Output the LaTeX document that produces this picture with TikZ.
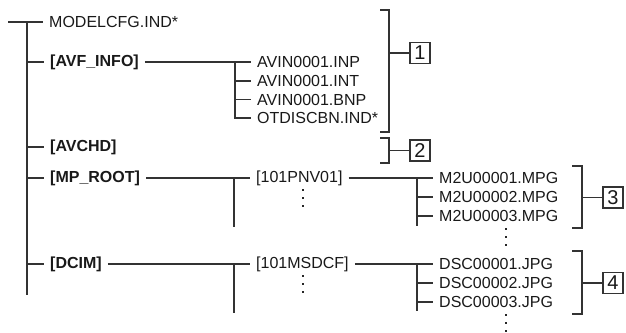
\documentclass[tikz,border=0pt]{standalone}
\usepackage{fontspec}
\setmainfont{Liberation Sans}
\begin{document}
\begin{tikzpicture}[x=1pt,y=-1pt,
  ln/.style={draw=black!80,line width=1.2pt},
  fname/.style={anchor=west,inner xsep=6pt,inner ysep=0pt,font=\fontsize{16}{18}\selectfont,text=black!90},
  dname/.style={fname,font=\fontsize{16}{18}\selectfont\bfseries},
  numbox/.style={draw=black!80,line width=1.1pt,minimum width=20pt,minimum height=21pt,inner sep=0pt,font=\fontsize{20}{20}\selectfont,text=black!90},
  dot/.style={fill=black!85,inner sep=0pt,minimum size=2.4pt,rectangle}]
\useasboundingbox (0,0) rectangle (626,332);
% root
\coordinate (rootL) at (8,22);
\coordinate (top) at (27,22);
\coordinate (bottom) at (27,295);
\node[fname] (model) at (43,22) {MODELCFG.IND*};
\node[dname] (avf) at (44,62) {[AVF\_INFO]};
\node[dname] (avchd) at (44,147) {[AVCHD]};
\node[dname] (mp) at (44,178) {[MP\_ROOT]};
\node[dname] (dcim) at (44,264) {[DCIM]};
\draw[ln] (rootL) -- (model.west);
\draw[ln] (top) -- (bottom);
\foreach \n in {avf,avchd,mp,dcim} \draw[ln] (top |- \n.west) -- (\n.west);
% AVF_INFO
\node[fname] (inp) at (251,62) {AVIN0001.INP};
\node[fname] (int) at (251,81) {AVIN0001.INT};
\node[fname] (bnp) at (251,99.5) {AVIN0001.BNP};
\node[fname] (otd) at (251,118) {OTDISCBN.IND*};
\coordinate (avfj) at (235,62);
\draw[ln] (avf.east) -- (inp.west);
\draw[ln] (avfj) -- (avfj |- otd.west) -- (otd.west);
\draw[ln] (avfj |- int.west) -- (int.west);
\draw[ln] (avfj |- bnp.west) -- (bnp.west);
% MP_ROOT
\node[fname] (pnv) at (250,178) {[101PNV01]};
\coordinate (mpj) at (234,178);
\coordinate (mpend) at (234,227);
\draw[ln] (mp.east) -- (pnv.west);
\draw[ln] (mpj) -- (mpend);
\foreach \y [count=\i] in {190,198,206} \node[dot] (pd\i) at (303,\y) {};
\node[fname] (m1) at (433,178) {M2U00001.MPG};
\node[fname] (m2) at (433,197) {M2U00002.MPG};
\node[fname] (m3) at (433,216) {M2U00003.MPG};
\coordinate (pnvj) at (417,178);
\coordinate (pnvend) at (417,226);
\draw[ln] (pnv.east) -- (m1.west);
\draw[ln] (pnvj) -- (pnvend);
\draw[ln] (pnvj |- m2.west) -- (m2.west);
\draw[ln] (pnvj |- m3.west) -- (m3.west);
\foreach \y [count=\i] in {229,237,245} \node[dot] (md\i) at (506,\y) {};
% DCIM
\node[fname] (msd) at (250,264) {[101MSDCF]};
\coordinate (dcj) at (234,264);
\coordinate (dcend) at (234,313);
\draw[ln] (dcim.east) -- (msd.west);
\draw[ln] (dcj) -- (dcend);
\foreach \y [count=\i] in {276,284,292} \node[dot] (sd\i) at (303,\y) {};
\node[fname] (d1) at (433,264) {DSC00001.JPG};
\node[fname] (d2) at (433,283) {DSC00002.JPG};
\node[fname] (d3) at (433,302) {DSC00003.JPG};
\coordinate (msdj) at (417,264);
\coordinate (msdend) at (417,311);
\draw[ln] (msd.east) -- (d1.west);
\draw[ln] (msdj) -- (msdend);
\draw[ln] (msdj |- d2.west) -- (d2.west);
\draw[ln] (msdj |- d3.west) -- (d3.west);
\foreach \y [count=\i] in {315,323,331} \node[dot] (dd\i) at (506,\y) {};
% brackets
\node[numbox] (b1) at (420,53) {1};
\node[numbox] (b2) at (420,150.5) {2};
\node[numbox] (b3) at (613,197.5) {3};
\node[numbox] (b4) at (613,283) {4};
\coordinate (k1t) at (389,10); \coordinate (k1b) at (389,132);
\draw[ln] (k1t) ++(-9,0) -- (k1t) -- (k1b) -- ++(-9,0);
\draw[ln] (k1t |- b1.west) -- (b1.west);
\coordinate (k2t) at (389,138); \coordinate (k2b) at (389,163);
\draw[ln] (k2t) ++(-9,0) -- (k2t) -- (k2b) -- ++(-9,0);
\draw[ln] (k2t |- b2.west) -- (b2.west);
\coordinate (k3t) at (582,166); \coordinate (k3b) at (582,228);
\draw[ln] (k3t) ++(-10,0) -- (k3t) -- (k3b) -- ++(-10,0);
\draw[ln] (k3t |- b3.west) -- (b3.west);
\coordinate (k4t) at (582,251); \coordinate (k4b) at (582,314);
\draw[ln] (k4t) ++(-10,0) -- (k4t) -- (k4b) -- ++(-10,0);
\draw[ln] (k4t |- b4.west) -- (b4.west);
\end{tikzpicture}
\end{document}
